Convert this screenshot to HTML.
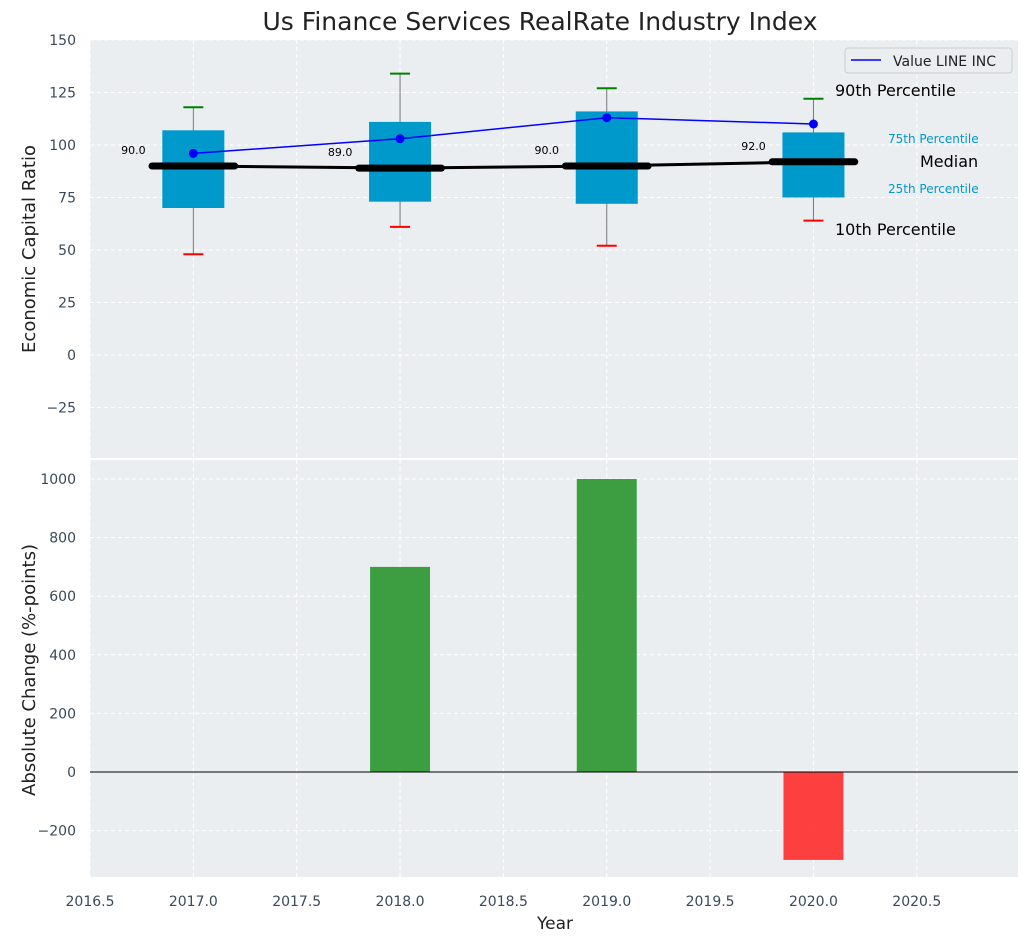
<!DOCTYPE html>
<html><head><meta charset="utf-8"><style>
body{margin:0;background:#fff;font-family:"Liberation Sans","DejaVu Sans",sans-serif}
svg text{font-family:"DejaVu Sans","Liberation Sans",sans-serif}
</style></head><body>
<svg id="c" width="1029" height="942" xmlns="http://www.w3.org/2000/svg"></svg>
<script>
const years=[2017,2018,2019,2020];
const p10=[48,61,52,64];
const q25=[70,73,72,75];
const medians=[90,89,90,92];
const q75=[107,111,116,106];
const p90=[118,134,127,122];
const lineValues=[96,103,113,110];
const changes=[0,700,1000,-300];
const xTicks=[2016.5,2017,2017.5,2018,2018.5,2019,2019.5,2020,2020.5];
const yTopTicks=[-25,0,25,50,75,100,125,150];
const yBotTicks=[-200,0,200,400,600,800,1000];

const NS="http://www.w3.org/2000/svg";
const svg=document.getElementById('c');
function el(t,a,p){const e=document.createElementNS(NS,t);for(const k in a)e.setAttribute(k,a[k]);(p||svg).appendChild(e);return e;}
const L=90,R=1018;
const X=v=>L+(v-2016.5)*206.7;
const T0=40,T1=458,B0=460,B1=877;
const YT=v=>40+(150-v)*2.1;
const YB=v=>772-v*0.293;

function panel(y0,y1,name){
 const r=el('rect',{x:L,y:y0,width:R-L,height:y1-y0,fill:'#eaeef0'});
 
}
panel(T0,T1,'top-plot-area');panel(B0,B1,'bottom-plot-area');
// grids
xTicks.forEach(v=>{
 el('line',{x1:X(v),x2:X(v),y1:T0,y2:T1,stroke:'#fff','stroke-dasharray':'4,3'});
 el('line',{x1:X(v),x2:X(v),y1:B0,y2:B1,stroke:'#fff','stroke-dasharray':'4,3'});
 const t=el('text',{x:X(v),y:906,'text-anchor':'middle','font-size':14,fill:'#3a4a5a'});t.textContent=v.toFixed(1);
 
});
yTopTicks.forEach(v=>{
 el('line',{x1:L,x2:R,y1:YT(v),y2:YT(v),stroke:'#fff','stroke-dasharray':'4,3'});
 const t=el('text',{x:76,y:YT(v)+5,'text-anchor':'end','font-size':14,fill:'#3a4a5a'});t.textContent=v<0?'\u2212'+(-v):v;
 
});
yBotTicks.forEach(v=>{
 el('line',{x1:L,x2:R,y1:YB(v),y2:YB(v),stroke:'#fff','stroke-dasharray':'4,3'});
 const t=el('text',{x:76,y:YB(v)+5,'text-anchor':'end','font-size':14,fill:'#3a4a5a'});t.textContent=v<0?'\u2212'+(-v):v;
 
});
// boxes
years.forEach((yr,i)=>{
 const cx=X(yr),hw=0.15*206.7;
 el('line',{x1:cx,x2:cx,y1:YT(p90[i]),y2:YT(p10[i]),stroke:'#777','stroke-width':1});
 const b=el('rect',{x:cx-hw,y:YT(q75[i]),width:2*hw,height:YT(q25[i])-YT(q75[i]),fill:'#0099cc'});
 
 el('line',{x1:cx-10,x2:cx+10,y1:YT(p90[i]),y2:YT(p90[i]),stroke:'green','stroke-width':2});
 el('line',{x1:cx-10,x2:cx+10,y1:YT(p10[i]),y2:YT(p10[i]),stroke:'red','stroke-width':2});
 const m=el('line',{x1:cx-0.2*206.7,x2:cx+0.2*206.7,y1:YT(medians[i]),y2:YT(medians[i]),stroke:'#000','stroke-width':7,'stroke-linecap':'round'});
 
 const t=el('text',{x:cx-0.29*206.7,y:YT(medians[i])-12,'text-anchor':'middle','font-size':11,fill:'#000'});t.textContent=medians[i].toFixed(1);
 
});
const mp=el('polyline',{points:years.map((y,i)=>X(y)+','+YT(medians[i])).join(' '),fill:'none',stroke:'#000','stroke-width':3});

const lp=el('polyline',{points:years.map((y,i)=>X(y)+','+YT(lineValues[i])).join(' '),fill:'none',stroke:'blue','stroke-width':1.5});

years.forEach((y,i)=>{const c=el('circle',{cx:X(y),cy:YT(lineValues[i]),r:4.5,fill:'blue'});
 });
// annotations
[['90th Percentile',835,96,16,'#000'],['75th Percentile',888,143,12,'#0099cc'],['Median',920,167,16,'#000'],['25th Percentile',888,193,12,'#0099cc'],['10th Percentile',835,235,16,'#000']].forEach(a=>{
 const t=el('text',{x:a[1],y:a[2],'font-size':a[3],fill:a[4]});t.textContent=a[0];
 
});
// legend
const lg=el('g',{});
el('rect',{x:845,y:48,width:167,height:25,fill:'#eaeef0',stroke:'#ccc',rx:3},lg);
el('line',{x1:851,x2:881,y1:60,y2:60,stroke:'blue','stroke-width':1.5},lg);
const lt=el('text',{x:893,y:66,'font-size':14,fill:'#222'},lg);lt.textContent='Value LINE INC';
// bars
years.forEach((yr,i)=>{const cx=X(yr),hw=0.145*206.7,v=changes[i];
 const b=el('rect',{x:cx-hw,y:Math.min(YB(v),YB(0)),width:2*hw,height:Math.abs(YB(v)-YB(0)),fill:v>=0?'#2e9632':'#ff3030','fill-opacity':0.92});
 });
el('line',{x1:L,x2:R,y1:YB(0),y2:YB(0),stroke:'#000','stroke-width':1});
// titles
[['Us Finance Services RealRate Industry Index',540,30,25,'chart-title',0],['Year',555,929,17,'x-axis-title',0]].forEach(a=>{
 const t=el('text',{x:a[1],y:a[2],'text-anchor':'middle','font-size':a[3],fill:'#222'});t.textContent=a[0];
 });
[['Economic Capital Ratio',249,'y-top-title'],['Absolute Change (%-points)',670,'y-bottom-title']].forEach(a=>{
 const t=el('text',{x:35,y:a[1],'text-anchor':'middle','font-size':18,fill:'#222',transform:'rotate(-90 35 '+a[1]+')'});t.textContent=a[0];
 });
</script></body></html>
